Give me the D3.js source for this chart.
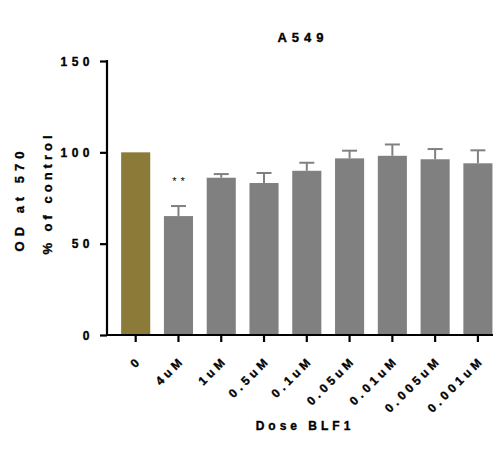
<!DOCTYPE html>
<html>
<head>
<meta charset="utf-8">
<script src="https://cdn.jsdelivr.net/npm/d3@7"></script>
<style>
  body { margin: 0; background: #fff; }
  text { font-family: "Liberation Sans", Arial, sans-serif; font-weight: bold; fill: #000; stroke: #000; stroke-width: 0.35px; }
</style>
</head>
<body>
<script>
const doses = ["0", "4uM", "1uM", "0.5uM", "0.1uM", "0.05uM", "0.01uM", "0.005uM", "0.001uM"];
const means = [100, 65.1, 86.1, 83.2, 89.9, 96.7, 98.1, 96.2, 94.0];
const errs = [0, 5.5, 2, 5.5, 4.4, 4.2, 6.2, 5.6, 7.1];
const barColors = ["#8b7a38", "#808080", "#808080", "#808080", "#808080", "#808080", "#808080", "#808080", "#808080"];
const yTicks = [0, 50, 100, 150];

let width = 503, height = 458;
let svg = d3.select("body").append("svg").attr("width", width).attr("height", height);

let x = d3.scaleBand().domain(doses).range([114.3, 499.3]).paddingInner(0.32).paddingOuter(0.16);
let y = d3.scaleLinear().domain([0, 150]).range([335, 61]);

// bars
svg.selectAll("rect.bar").data(doses).enter().append("rect")
	.attr("x", d => x(d))
	.attr("width", x.bandwidth())
	.attr("y", (d, i) => y(means[i]))
	.attr("height", (d, i) => y(0) - y(means[i]))
	.attr("fill", (d, i) => barColors[i]);

// error bars (upper only)
let eb = svg.append("g").attr("stroke", "#808080").attr("stroke-width", 2);
doses.forEach((d, i) => {
	if (!errs[i]) return;
	let cx = x(d) + x.bandwidth() / 2;
	eb.append("line").attr("x1", cx).attr("x2", cx).attr("y1", y(means[i])).attr("y2", y(means[i] + errs[i]));
	eb.append("line").attr("x1", cx - 7.5).attr("x2", cx + 7.5).attr("y1", y(means[i] + errs[i])).attr("y2", y(means[i] + errs[i]));
});

// significance stars
svg.append("text")
	.attr("x", x("4uM") + x.bandwidth() / 2 + 2)
	.attr("y", y(means[1] + errs[1]) - 21)
	.attr("text-anchor", "middle")
	.style("font-size", "11px")
	.style("font-weight", "normal")
	.style("stroke-width", 0)
	.style("letter-spacing", "4px")
	.text("**");

// y axis
let yAxis = svg.append("g").attr("transform", "translate(107,0)")
	.call(d3.axisLeft(y).tickValues(yTicks).tickSize(7).tickPadding(6));
yAxis.select(".domain").attr("stroke-width", 2.2).attr("d", `M0,${y(150) - 1}V${y(0) + 1}`);
yAxis.selectAll(".tick line").attr("stroke-width", 2.2);
yAxis.selectAll(".tick text")
	.style("font-size", "12px").style("font-family", "Liberation Sans, Arial, sans-serif")
	.style("font-weight", "bold").style("letter-spacing", "4.5px").attr("dy", "0.35em");

// x axis
let xAxis = svg.append("g").attr("transform", `translate(0,${y(0)})`)
	.call(d3.axisBottom(x).tickSize(7).tickSizeOuter(0));
xAxis.select(".domain").attr("stroke-width", 2.2).attr("d", "M106,0H493");
xAxis.selectAll(".tick line").attr("stroke-width", 2.2);
xAxis.selectAll(".tick text")
	.style("font-size", "12px").style("font-family", "Liberation Sans, Arial, sans-serif")
	.style("font-weight", "bold").style("letter-spacing", "3.8px")
	.attr("text-anchor", "end")
	.attr("y", 0).attr("dy", 0)
	.attr("transform", "translate(7,26) rotate(-45)");

// titles
svg.append("text").attr("x", 303).attr("y", 42).attr("text-anchor", "middle")
	.style("font-size", "13px").style("letter-spacing", "5px").text("A549");
svg.append("text").attr("x", 305).attr("y", 430).attr("text-anchor", "middle")
	.style("font-size", "12px").style("letter-spacing", "4px").text("Dose BLF1");
svg.append("text").attr("transform", "translate(24,199) rotate(-90)").attr("text-anchor", "middle")
	.style("font-size", "13px").style("letter-spacing", "5px").text("OD at 570");
svg.append("text").attr("transform", "translate(52,193) rotate(-90)").attr("text-anchor", "middle")
	.style("font-size", "13px").style("letter-spacing", "4px").text("% of control");
</script>
</body>
</html>
